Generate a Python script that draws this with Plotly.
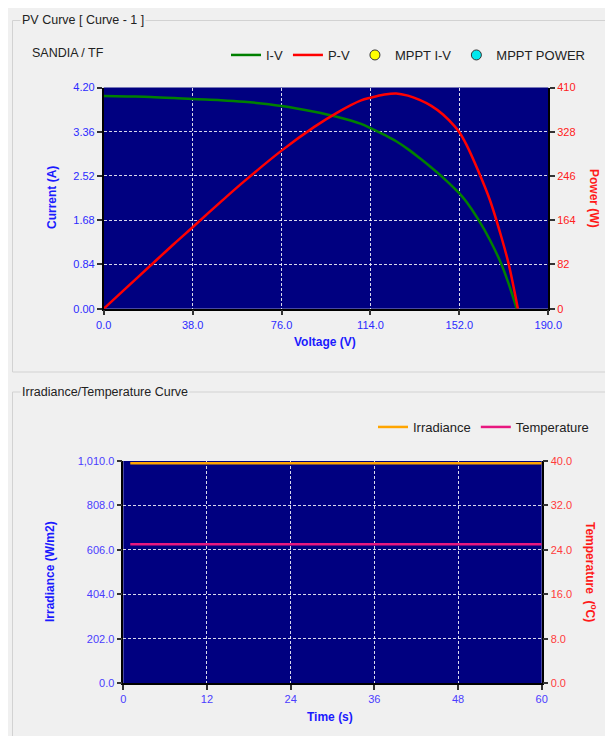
import plotly.graph_objects as go

# ---------------- data ----------------
iv_voltage = [0, 10, 20, 30, 38, 50, 60, 76, 90, 100, 110, 114, 120, 125, 130, 135, 140, 145,
              150, 152, 155, 160, 165, 170, 173, 176.5]
iv_current = [4.04, 4.03, 4.02, 4.00, 3.98, 3.96, 3.93, 3.85, 3.74, 3.64, 3.51, 3.43, 3.30, 3.18,
              3.03, 2.86, 2.68, 2.49, 2.28, 2.19, 2.03, 1.70, 1.31, 0.84, 0.48, 0.0]

pv_voltage = [0, 10, 20, 30, 38, 50, 60, 76, 90, 100, 110, 114, 120, 125, 130, 135, 140, 145,
              150, 152, 155, 160, 165, 170, 173, 177]
pv_power = [0, 40, 80, 120, 151, 198, 236, 293, 337, 364, 386, 391, 397, 399, 395, 387, 376, 360,
            338, 327, 304, 256, 202, 132, 84, 0]

time_s = list(range(1, 61))
irradiance = [1000] * 60
temperature = [25] * 60

v_ticks = [0, 38, 76, 114, 152, 190]
v_ticktext = ["0.0", "38.0", "76.0", "114.0", "152.0", "190.0"]
i_ticks = [0, 0.84, 1.68, 2.52, 3.36, 4.20]
i_ticktext = ["0.00", "0.84", "1.68", "2.52", "3.36", "4.20"]
p_ticks = [0, 82, 164, 246, 328, 410]
p_ticktext = ["0", "82", "164", "246", "328", "410"]
t_ticks = [0, 12, 24, 36, 48, 60]
t_ticktext = ["0", "12", "24", "36", "48", "60"]
irr_ticks = [0, 202, 404, 606, 808, 1010]
irr_ticktext = ["0.0", "202.0", "404.0", "606.0", "808.0", "1,010.0"]
temp_ticks = [0, 8, 16, 24, 32, 40]
temp_ticktext = ["0.0", "8.0", "16.0", "24.0", "32.0", "40.0"]

# ---------------- layout helpers ----------------
OFF = 8            # the page body margin that shifts the figure
W, H = 613 - OFF, 736 - OFF


def px(x):
    return (x - OFF) / W


def py(y):
    return 1 - (y - OFF) / H


FONT = "Liberation Sans, Arial, sans-serif"
NAVY = "#000080"
BLUE = "#2b2bff"
BLUE2 = "#4a3cff"
RED = "#ff2020"
RED2 = "#ff3b3b"

fig = go.Figure()

fig.add_trace(go.Scatter(x=iv_voltage, y=iv_current, name="I-V", mode="lines",
                         line=dict(color="#008000", width=2.5, shape="spline"),
                         xaxis="x", yaxis="y", legend="legend"))
fig.add_trace(go.Scatter(x=pv_voltage, y=pv_power, name="P-V", mode="lines",
                         line=dict(color="#ff0000", width=2.5, shape="spline"),
                         xaxis="x", yaxis="y2", legend="legend"))
fig.add_trace(go.Scatter(x=[None], y=[None], name="MPPT I-V", mode="markers",
                         marker=dict(color="#ffff00", size=10, line=dict(color="#333", width=1)),
                         xaxis="x", yaxis="y", legend="legend"))
fig.add_trace(go.Scatter(x=[None], y=[None], name="MPPT POWER", mode="markers",
                         marker=dict(color="#00e8ee", size=10, line=dict(color="#333", width=1)),
                         xaxis="x", yaxis="y2", legend="legend"))

fig.add_trace(go.Scatter(x=time_s, y=irradiance, name="Irradiance", mode="lines",
                         line=dict(color="#ffa500", width=2.5),
                         xaxis="x2", yaxis="y3", legend="legend2"))
fig.add_trace(go.Scatter(x=time_s, y=temperature, name="Temperature", mode="lines",
                         line=dict(color="#e8177f", width=2.5),
                         xaxis="x2", yaxis="y4", legend="legend2"))

grid = dict(showgrid=True, gridcolor="rgba(255,255,255,0.85)", gridwidth=1, griddash="3px,2px")
axis_common = dict(showline=True, linecolor="#000", linewidth=1.5, ticks="outside",
                   ticklen=5, tickcolor="#333", tickwidth=1.5, zeroline=False,
                   automargin=False, fixedrange=True)

top_x = [px(103.7), px(548.3)]
top_y = [py(308.7), py(87.5)]
bot_x = [px(123.3), px(541.7)]
bot_y = [py(683.3), py(461)]

fig.update_layout(
    width=W, height=H,
    margin=dict(l=0, r=0, t=0, b=0),
    paper_bgcolor="#f0f0f0",
    plot_bgcolor=NAVY,
    font=dict(family=FONT, size=11, color="#222"),
    xaxis=dict(domain=top_x, range=[0, 190], tickvals=v_ticks, ticktext=v_ticktext,
               tickfont=dict(color=BLUE, size=11), anchor="y", **grid, **axis_common),
    yaxis=dict(domain=top_y, range=[0, 4.2], tickvals=i_ticks, ticktext=i_ticktext,
               tickfont=dict(color=BLUE, size=11), anchor="x", **grid, **axis_common),
    yaxis2=dict(range=[0, 410], tickvals=p_ticks, ticktext=p_ticktext, overlaying="y",
                side="right", anchor="x", showgrid=False,
                tickfont=dict(color=RED, size=11), **axis_common),
    xaxis2=dict(domain=bot_x, range=[0, 60], tickvals=t_ticks, ticktext=t_ticktext,
                tickfont=dict(color=BLUE2, size=11), anchor="y3", **grid, **axis_common),
    yaxis3=dict(domain=bot_y, range=[0, 1010], tickvals=irr_ticks, ticktext=irr_ticktext,
                tickfont=dict(color=BLUE2, size=11), anchor="x2", **grid, **axis_common),
    yaxis4=dict(range=[0, 40], tickvals=temp_ticks, ticktext=temp_ticktext, overlaying="y3",
                side="right", anchor="x2", showgrid=False,
                tickfont=dict(color=RED2, size=11), **axis_common),
    legend=dict(orientation="h", x=px(590), xanchor="right", y=py(55), yanchor="middle",
                bgcolor="rgba(0,0,0,0)", font=dict(size=13, color="#222"), itemwidth=30),
    legend2=dict(orientation="h", x=px(594), xanchor="right", y=py(427), yanchor="middle",
                 bgcolor="rgba(0,0,0,0)", font=dict(size=13, color="#222"), itemwidth=30),
    showlegend=True,
)

# group boxes
fig.add_shape(type="rect", xref="paper", yref="paper",
              x0=px(12.5), x1=px(640), y0=py(372), y1=py(20.5),
              line=dict(color="#d2d2d2", width=1), fillcolor="rgba(0,0,0,0)", layer="below")
fig.add_shape(type="rect", xref="paper", yref="paper",
              x0=px(12.5), x1=px(640), y0=py(760), y1=py(392),
              line=dict(color="#d2d2d2", width=1), fillcolor="rgba(0,0,0,0)", layer="below")

ann = []


def text(t, x, y, size=12, color="#222", xanchor="left", angle=0, bold=False, bg=None):
    ann.append(dict(text=("<b>%s</b>" % t) if bold else t, x=px(x), y=py(y), xref="paper",
                    yref="paper", showarrow=False, xanchor=xanchor, yanchor="middle",
                    textangle=angle, font=dict(size=size, color=color, family=FONT),
                    bgcolor=bg, borderpad=1))


text("PV Curve [ Curve - 1 ]", 20, 20, size=12.5, bg="#f0f0f0")
text("SANDIA / TF", 30, 53, size=12.5)
text("Irradiance/Temperature Curve", 20, 392, size=12.5, bg="#f0f0f0")

text("Current (A)", 52, 198, color="#1a1aff", xanchor="center", angle=-90, bold=True)
text("Power (W)", 594, 198, color="#ff1a1a", xanchor="center", angle=90, bold=True)
text("Voltage (V)", 325, 342, color="#1a1aff", xanchor="center", bold=True)

text("Irradiance (W/m2)", 50, 572, color="#1a1aff", xanchor="center", angle=-90, bold=True)
text("Temperature  (<sup>o</sup>C)", 591, 572, color="#ff1a1a", xanchor="center", angle=90,
     bold=True)
text("Time (s)", 330, 717, color="#1a1aff", xanchor="center", bold=True)

fig.update_layout(annotations=ann)

fig.write_html("out.html")
